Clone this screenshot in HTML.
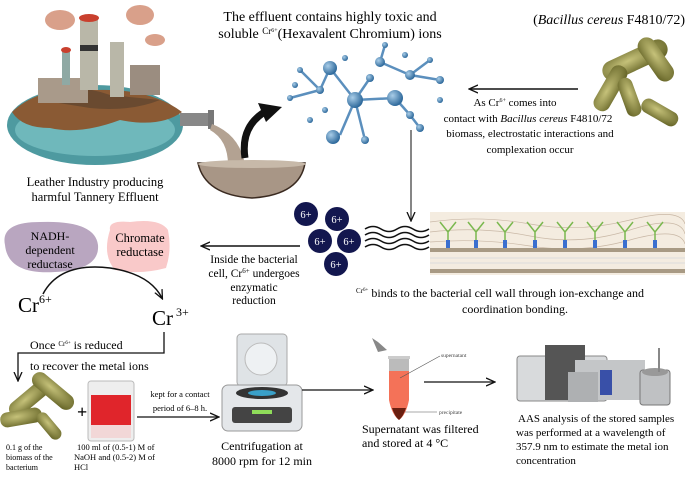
<!DOCTYPE html>
<html><head><meta charset="utf-8"><style>
html,body{margin:0;padding:0;background:#fff;}
svg{display:block;font-family:"Liberation Serif",serif;}
</style></head><body>
<svg width="685" height="479" viewBox="0 0 685 479" xmlns="http://www.w3.org/2000/svg">
<defs>
<marker id="ah" markerWidth="10" markerHeight="10" refX="8" refY="5" orient="auto" markerUnits="userSpaceOnUse"><path d="M0,1 L9,5 L0,9" fill="none" stroke="#111" stroke-width="1.3"/></marker>
<radialGradient id="ball" cx="35%" cy="35%" r="65%"><stop offset="0" stop-color="#a9cde8"/><stop offset="1" stop-color="#2f6a9c"/></radialGradient>
<radialGradient id="bac" cx="40%" cy="40%" r="70%"><stop offset="0" stop-color="#c6c27a"/><stop offset="1" stop-color="#6b6a2c"/></radialGradient>
</defs>

<!-- Factory island -->
<ellipse cx="95" cy="125" rx="88" ry="40" fill="#4e9aa0"/>
<ellipse cx="95" cy="130" rx="80" ry="26" fill="#6fb8bb"/>
<path d="M12,112 Q40,85 95,90 Q150,88 182,112 Q160,128 120,120 Q80,135 50,128 Q22,128 12,112Z" fill="#8a5a34"/>
<path d="M40,100 Q70,80 110,95 L160,100 Q130,112 90,108Z" fill="#6a4a30"/>
<rect x="38" y="78" width="50" height="25" fill="#a99a8a"/>
<rect x="80" y="18" width="18" height="72" fill="#b9b7a8"/>
<rect x="80" y="45" width="18" height="6" fill="#333"/>
<ellipse cx="89" cy="18" rx="10" ry="4" fill="#c9402e"/>
<rect x="110" y="42" width="14" height="55" fill="#b9b7a8"/>
<rect x="62" y="50" width="8" height="35" fill="#8fa9a4"/>
<ellipse cx="66" cy="50" rx="5" ry="3" fill="#c9402e"/>
<rect x="130" y="65" width="30" height="30" fill="#9b8d80"/>
<ellipse cx="60" cy="20" rx="15" ry="10" fill="#d9a08a"/>
<ellipse cx="140" cy="15" rx="14" ry="10" fill="#d9a08a"/>
<ellipse cx="155" cy="40" rx="10" ry="6" fill="#d9a08a"/>
<text x="95" y="186" font-size="12.5" text-anchor="middle">Leather Industry producing</text>
<text x="95" y="201" font-size="12.5" text-anchor="middle">harmful Tannery Effluent</text>

<!-- pipe and bowl -->
<rect x="180" y="113" width="30" height="13" fill="#888"/>
<rect x="208" y="110" width="6" height="19" fill="#777"/>
<path d="M212,124 Q240,135 245,165 L228,165 Q228,140 210,130Z" fill="#b3a292"/>
<path d="M198,163 L305,163 Q300,195 252,198 Q205,195 198,163Z" fill="#a89686" stroke="#3a2a20" stroke-width="1.5"/>
<ellipse cx="252" cy="164" rx="54" ry="4" fill="#c7b9a9"/>
<path d="M245,158 Q240,125 268,110" fill="none" stroke="#111" stroke-width="7"/>
<path d="M258,103 L282,107 L266,122Z" fill="#111"/>

<!-- title -->
<text x="330" y="21" font-size="14" text-anchor="middle">The effluent contains highly toxic and</text>
<text x="330" y="38" font-size="14" text-anchor="middle">soluble <tspan font-size="9" dy="-4">Cr</tspan><tspan font-size="6" dy="-2">6+</tspan><tspan dy="6">(Hexavalent Chromium) ions</tspan></text>

<!-- molecule -->
<g stroke="#5b8fbd" stroke-width="2.5">
<line x1="330" y1="68" x2="355" y2="100"/><line x1="355" y1="100" x2="395" y2="98"/><line x1="355" y1="100" x2="340" y2="135"/><line x1="355" y1="100" x2="365" y2="140"/><line x1="330" y1="68" x2="320" y2="90"/><line x1="320" y1="90" x2="290" y2="98"/><line x1="395" y1="98" x2="410" y2="115"/><line x1="380" y1="62" x2="410" y2="75"/><line x1="380" y1="62" x2="385" y2="45"/><line x1="410" y1="75" x2="440" y2="80"/><line x1="355" y1="100" x2="370" y2="78"/><line x1="410" y1="115" x2="420" y2="128"/><line x1="300" y1="70" x2="320" y2="90"/><line x1="430" y1="60" x2="410" y2="75"/>
</g>
<g fill="url(#ball)">
<circle cx="330" cy="68" r="7"/><circle cx="355" cy="100" r="8"/><circle cx="395" cy="98" r="8"/><circle cx="333" cy="137" r="7"/><circle cx="365" cy="140" r="4"/><circle cx="320" cy="90" r="4"/><circle cx="290" cy="98" r="3"/><circle cx="410" cy="115" r="4"/><circle cx="380" cy="62" r="5"/><circle cx="410" cy="75" r="5"/><circle cx="385" cy="45" r="3"/><circle cx="440" cy="80" r="4"/><circle cx="370" cy="78" r="4"/><circle cx="420" cy="128" r="4"/><circle cx="300" cy="70" r="3"/><circle cx="430" cy="60" r="3"/><circle cx="310" cy="120" r="3"/><circle cx="295" cy="85" r="3"/><circle cx="345" cy="58" r="3"/><circle cx="405" cy="55" r="3"/><circle cx="440" cy="100" r="3"/><circle cx="325" cy="110" r="3"/>
</g>

<!-- Bacillus top right -->
<text x="685" y="24" font-size="14" text-anchor="end">(<tspan font-style="italic">Bacillus cereus</tspan> F4810/72)</text>
<g fill="url(#bac)">
<rect x="600" y="50" width="70" height="20" rx="10" transform="rotate(-25 635 60)"/>
<rect x="630" y="50" width="50" height="18" rx="9" transform="rotate(55 655 60)"/>
<rect x="585" y="80" width="50" height="17" rx="8" transform="rotate(-60 610 88)"/>
<rect x="640" y="105" width="40" height="15" rx="7" transform="rotate(30 660 112)"/>
<rect x="610" y="90" width="40" height="15" rx="7" transform="rotate(70 630 97)"/>
</g>
<line x1="578" y1="89" x2="470" y2="89" stroke="#111" stroke-width="1.5" marker-end="url(#ah)"/>
<text x="515" y="106" font-size="11" text-anchor="middle">As  Cr<tspan font-size="6" dy="-4">6+</tspan><tspan dy="4"> comes into</tspan></text>
<text x="528" y="122" font-size="11" text-anchor="middle">contact with <tspan font-style="italic">Bacillus cereus</tspan> F4810/72</text>
<text x="530" y="137" font-size="11" text-anchor="middle">biomass, electrostatic interactions and</text>
<text x="530" y="153" font-size="11" text-anchor="middle">complexation occur</text>

<!-- down arrow -->
<line x1="411" y1="130" x2="411" y2="220" stroke="#444" stroke-width="1.3" marker-end="url(#ah)"/>

<!-- cell wall -->
<rect x="430" y="212" width="255" height="63" fill="#f4ece0"/>
<g stroke="#c9b8a6" stroke-width="0.7" fill="none">
<path d="M430,222 Q480,215 530,224 T630,220 T685,224"/><path d="M430,232 Q480,226 530,236 T630,230 T685,234"/><path d="M430,242 Q480,238 530,246 T630,240 T685,244"/>
</g>
<g fill="#a89a84">
<rect x="430" y="248" width="255" height="4"/><rect x="430" y="269" width="255" height="4"/>
</g>
<g stroke="#ddd" stroke-width="1"><line x1="430" y1="258" x2="685" y2="258"/><line x1="430" y1="263" x2="685" y2="263"/></g>
<g stroke="#7ab84f" stroke-width="1.5" fill="none">
<path d="M448,245 L448,232 L440,222 M448,232 L456,222"/><path d="M476,245 L476,232 L468,222 M476,232 L484,222"/><path d="M505,245 L505,232 L497,222 M505,232 L513,222"/><path d="M535,245 L535,232 L527,222 M535,232 L543,222"/><path d="M565,245 L565,232 L557,222 M565,232 L573,222"/><path d="M595,245 L595,232 L587,222 M595,232 L603,222"/><path d="M625,245 L625,232 L617,222 M625,232 L633,222"/><path d="M655,245 L655,232 L647,222 M655,232 L663,222"/>
</g>
<g fill="#3a6fcf"><rect x="446" y="240" width="4" height="8"/><rect x="474" y="240" width="4" height="8"/><rect x="503" y="240" width="4" height="8"/><rect x="533" y="240" width="4" height="8"/><rect x="563" y="240" width="4" height="8"/><rect x="593" y="240" width="4" height="8"/><rect x="623" y="240" width="4" height="8"/><rect x="653" y="240" width="4" height="8"/></g>

<!-- waves -->
<g stroke="#111" stroke-width="1.6" fill="none">
<path d="M365,229 q8,-5 16,0 t16,0 t16,0 t16,0"/><path d="M365,235 q8,-5 16,0 t16,0 t16,0 t16,0"/><path d="M365,241 q8,-5 16,0 t16,0 t16,0 t16,0"/><path d="M365,247 q8,-5 16,0 t16,0 t16,0 t16,0"/>
</g>

<!-- 6+ ions -->
<g fill="#13174f">
<circle cx="306" cy="214" r="12"/><circle cx="337" cy="219" r="12"/><circle cx="320" cy="241" r="12"/><circle cx="349" cy="241" r="12"/><circle cx="336" cy="264" r="12"/>
</g>
<g fill="#fff" font-size="10.5" text-anchor="middle">
<text x="306" y="218">6+</text><text x="337" y="223">6+</text><text x="320" y="245">6+</text><text x="349" y="245">6+</text><text x="336" y="268">6+</text>
</g>

<text x="500" y="297" font-size="12" text-anchor="middle"><tspan font-size="7" dy="-4">Cr</tspan><tspan font-size="5" dy="-2">6+</tspan><tspan dy="6">  binds to the bacterial cell wall through ion-exchange and</tspan></text>
<text x="515" y="313" font-size="12" text-anchor="middle">coordination bonding.</text>

<!-- inside arrow -->
<line x1="300" y1="246" x2="202" y2="246" stroke="#111" stroke-width="1.5" marker-end="url(#ah)"/>
<text x="254" y="263" font-size="11.5" text-anchor="middle">Inside the bacterial</text>
<text x="254" y="277" font-size="11.5" text-anchor="middle">cell, Cr<tspan font-size="7" dy="-4">6+</tspan><tspan dy="4"> undergoes</tspan></text>
<text x="254" y="291" font-size="11.5" text-anchor="middle">enzymatic</text>
<text x="254" y="304" font-size="11.5" text-anchor="middle">reduction</text>

<!-- enzymes -->
<path d="M5,245 Q0,222 40,222 Q95,220 98,245 Q100,270 55,272 Q8,275 5,245Z" fill="#b9a6c0"/>
<path d="M110,230 Q108,220 130,222 Q160,218 168,230 Q172,250 166,268 Q140,275 115,270 Q102,255 110,230Z" fill="#f9c9c9"/>
<text x="50" y="240" font-size="12" text-anchor="middle">NADH-</text>
<text x="50" y="254" font-size="12" text-anchor="middle">dependent</text>
<text x="50" y="268" font-size="12" text-anchor="middle">reductase</text>
<text x="140" y="242" font-size="12.5" text-anchor="middle">Chromate</text>
<text x="140" y="256" font-size="12.5" text-anchor="middle">reductase</text>

<text x="18" y="312" font-size="21">Cr<tspan font-size="12" dy="-9">6+</tspan></text>
<text x="152" y="325" font-size="21">Cr<tspan font-size="12" dy="-9"> 3+</tspan></text>
<path d="M43,294 Q60,262 110,268 Q150,274 162,298" fill="none" stroke="#111" stroke-width="1.5" marker-end="url(#ah)"/>

<!-- recover path -->
<path d="M164,332 L164,353 L18,353 L18,380" fill="none" stroke="#111" stroke-width="1.3" marker-end="url(#ah)"/>
<text x="30" y="349" font-size="12">Once  <tspan font-size="7" dy="-3">Cr</tspan><tspan font-size="5" dy="-2">6+</tspan><tspan dy="5">  is reduced</tspan></text>
<text x="30" y="370" font-size="12">to recover the metal ions</text>

<!-- bottom bacteria -->
<g fill="url(#bac)">
<rect x="5" y="390" width="50" height="16" rx="8" transform="rotate(-40 30 398)"/>
<rect x="28" y="383" width="50" height="16" rx="8" transform="rotate(40 53 391)"/>
<rect x="0" y="410" width="42" height="15" rx="7" transform="rotate(-10 21 417)"/>
<rect x="33" y="420" width="32" height="12" rx="6" transform="rotate(50 49 426)"/>
</g>
<text x="77" y="418" font-size="18" font-weight="bold">+</text>
<!-- beaker -->
<rect x="88" y="381" width="46" height="60" rx="3" fill="#eee" stroke="#bbb"/>
<rect x="91" y="395" width="40" height="30" fill="#e0252b"/>
<rect x="91" y="425" width="40" height="13" fill="#f2d7d7"/>
<text x="6" y="450" font-size="8">0.1 g of the</text>
<text x="6" y="460" font-size="8">biomass of the</text>
<text x="6" y="470" font-size="8">bacterium</text>
<text x="77" y="450" font-size="8.5">100 ml of (0.5-1) M of</text>
<text x="74" y="460" font-size="8.5">NaOH and (0.5-2) M of</text>
<text x="74" y="470" font-size="8.5">HCl</text>
<text x="180" y="397" font-size="8.5" text-anchor="middle">kept for a contact</text>
<text x="180" y="411" font-size="8.5" text-anchor="middle">period of 6–8 h.</text>
<line x1="137" y1="417" x2="218" y2="417" stroke="#111" stroke-width="1.2" marker-end="url(#ah)"/>

<!-- centrifuge -->
<rect x="237" y="334" width="50" height="52" rx="4" fill="#dfe3e6" stroke="#aaa"/>
<circle cx="261" cy="359" r="16" fill="#eef1f3" stroke="#bbb"/>
<rect x="222" y="385" width="80" height="46" rx="6" fill="#e4e7ea" stroke="#999"/>
<ellipse cx="262" cy="393" rx="26" ry="6" fill="#333"/>
<ellipse cx="262" cy="393" rx="14" ry="3" fill="#3aa0c8"/>
<rect x="232" y="407" width="60" height="16" rx="3" fill="#444"/>
<rect x="252" y="410" width="20" height="4" fill="#8fdc5a"/>
<text x="262" y="450" font-size="12" text-anchor="middle">Centrifugation at</text>
<text x="262" y="465" font-size="12" text-anchor="middle">8000 rpm for 12 min</text>
<line x1="302" y1="390" x2="372" y2="390" stroke="#111" stroke-width="1.2" marker-end="url(#ah)"/>

<!-- tube -->
<path d="M372,338 L378,342 L387,350 L378,352Z" fill="#888"/>
<rect x="388" y="356" width="22" height="3" fill="#ccc"/>
<rect x="389" y="359" width="20" height="12" fill="#bbb"/>
<path d="M389,371 L409,371 L409,400 Q406,415 399,420 Q392,415 389,400Z" fill="#f47258"/>
<path d="M392,408 L406,408 Q403,417 399,420 Q395,417 392,408Z" fill="#6a1f10"/>
<line x1="400" y1="378" x2="440" y2="356" stroke="#555" stroke-width="0.6"/>
<text x="441" y="357" font-size="5.5" fill="#444">supernatant</text>
<line x1="405" y1="412" x2="437" y2="412" stroke="#555" stroke-width="0.6"/>
<text x="439" y="414" font-size="5.5" fill="#444">precipitate</text>
<text x="362" y="433" font-size="12">Supernatant was filtered</text>
<text x="362" y="447" font-size="12">and stored at 4 °C</text>
<line x1="424" y1="382" x2="494" y2="382" stroke="#111" stroke-width="1.2" marker-end="url(#ah)"/>

<!-- AAS -->
<rect x="517" y="356" width="90" height="45" rx="3" fill="#d8dadc" stroke="#888"/>
<rect x="545" y="345" width="40" height="55" fill="#555"/>
<rect x="575" y="360" width="70" height="40" fill="#c4c6c8"/>
<rect x="568" y="372" width="30" height="30" fill="#aeb0b2"/>
<rect x="600" y="370" width="12" height="25" fill="#3950a8"/>
<rect x="640" y="370" width="30" height="35" rx="3" fill="#bfc1c3" stroke="#777"/>
<ellipse cx="655" cy="372" rx="13" ry="4" fill="#999"/>
<rect x="658" y="348" width="2" height="24" fill="#888"/>
<text x="518" y="422" font-size="11">AAS analysis of the stored samples</text>
<text x="516" y="436" font-size="11">was performed at a wavelength of</text>
<text x="516" y="450" font-size="11">357.9 nm to estimate the metal ion</text>
<text x="516" y="464" font-size="11">concentration</text>
</svg>
</body></html>
